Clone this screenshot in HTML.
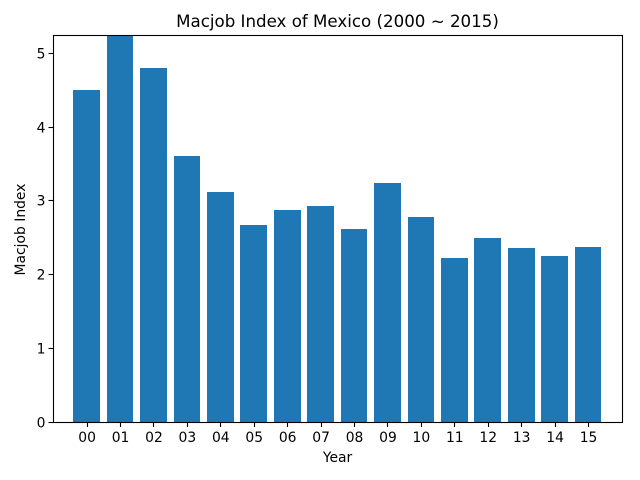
<!DOCTYPE html>
<html lang="en">
<head>
<meta charset="utf-8">
<title>Macjob Index of Mexico (2000 ~ 2015)</title>
<style>
html,body{margin:0;padding:0;background:#fff;width:640px;height:480px;overflow:hidden}
svg{display:block}
text{font-family:"DejaVu Sans",sans-serif;fill:#000}
</style>
</head>
<body>
<svg id="chart" width="640" height="480" viewBox="0 0 640 480" xmlns="http://www.w3.org/2000/svg">
<rect x="0" y="0" width="640" height="480" fill="#fff"/>
<text x="337.5" y="27" text-anchor="middle" style="font-size:16.67px">Macjob Index of Mexico (2000 ~ 2015)</text>
<text x="337.5" y="462" text-anchor="middle" style="font-size:13.89px">Year</text>
<text transform="translate(25 229.5) rotate(-90)" text-anchor="middle" style="font-size:13.89px">Macjob Index</text>
<g id="bars"></g>
<g id="x-ticks"></g>
<g id="y-ticks"></g>
<g stroke="#000" stroke-width="1.1" fill="none">
<rect x="53.5" y="35.5" width="569" height="387"/>
</g>
</svg>
<script>
const categories = ["00","01","02","03","04","05","06","07","08","09","10","11","12","13","14","15"];
const seriesValues = [4.50,5.30,4.80,3.61,3.12,2.67,2.88,2.93,2.62,3.24,2.78,2.22,2.50,2.36,2.25,2.37];
const yTickLabels = [0,1,2,3,4,5];
const yDomainMax = 5.245;
const xDomainMin = -0.99;
const xDomainMax = 16.031;
const barFraction = 0.8;

const plotLeft = 53.5, plotRight = 622.5, plotTop = 35.5, plotBottom = 422;
const svgNS = "http://www.w3.org/2000/svg";

function xScale(i) {
  return plotLeft + (i - xDomainMin) / (xDomainMax - xDomainMin) * (plotRight - plotLeft);
}
function yScale(v) {
  return plotBottom - (v / yDomainMax) * (plotBottom - plotTop);
}

const barsGroup = document.getElementById("bars");
categories.forEach(function (cat, i) {
  const x0 = Math.round(xScale(i - barFraction / 2));
  const x1 = Math.round(xScale(i + barFraction / 2));
  const yTop = Math.max(Math.round(yScale(seriesValues[i])), plotTop);
  const r = document.createElementNS(svgNS, "rect");
  r.setAttribute("x", x0);
  r.setAttribute("y", yTop);
  r.setAttribute("width", x1 - x0);
  r.setAttribute("height", plotBottom - yTop);
  r.setAttribute("fill", "#1f77b4");
  
  
  barsGroup.appendChild(r);
});

const xTicks = document.getElementById("x-ticks");
categories.forEach(function (cat, i) {
  const x = Math.round(xScale(i)) + 0.5;
  const t = document.createElementNS(svgNS, "line");
  t.setAttribute("x1", x);
  t.setAttribute("x2", x);
  t.setAttribute("y1", plotBottom);
  t.setAttribute("y2", plotBottom + 5);
  t.setAttribute("stroke", "#000");
  t.setAttribute("stroke-width", "1.1");
  
  
  xTicks.appendChild(t);
  const l = document.createElementNS(svgNS, "text");
  l.setAttribute("x", xScale(i) + 0.5);
  l.setAttribute("y", 442);
  l.setAttribute("text-anchor", "middle");
  l.style.fontSize = "13.89px";
  l.textContent = cat;
  
  
  xTicks.appendChild(l);
});

const yTicks = document.getElementById("y-ticks");
yTickLabels.forEach(function (v) {
  const y = Math.round(yScale(v) - 0.5) + 0.5;
  const t = document.createElementNS(svgNS, "line");
  t.setAttribute("x1", plotLeft - 5);
  t.setAttribute("x2", plotLeft);
  t.setAttribute("y1", y);
  t.setAttribute("y2", y);
  t.setAttribute("stroke", "#000");
  t.setAttribute("stroke-width", "1.1");
  
  
  yTicks.appendChild(t);
  const l = document.createElementNS(svgNS, "text");
  l.setAttribute("x", plotLeft - 8);
  l.setAttribute("y", y + 5);
  l.setAttribute("text-anchor", "end");
  l.style.fontSize = "13.89px";
  l.textContent = v;
  
  
  yTicks.appendChild(l);
});
</script>
</body>
</html>
